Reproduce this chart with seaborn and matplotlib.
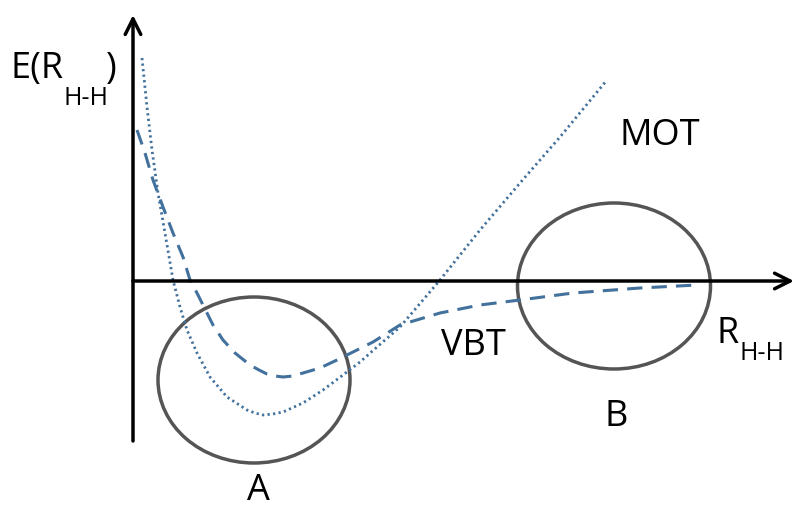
import numpy as np
import pandas as pd
import seaborn as sns
import matplotlib.pyplot as plt
from matplotlib.patches import Ellipse

# curve points (origin at the axes crossing)
vbt_x = [4, 12, 20, 30, 40, 50, 57, 64, 70, 80, 90, 102, 117, 126, 134, 142, 150, 160, 170, 187, 204,
         220, 240, 267, 307, 347, 387, 440, 507, 564]
vbt_y = [151, 128, 101, 74, 48, 24, 1, -12, -24, -44, -59, -72, -84, -89, -93, -95, -96, -95, -92, -87, -79,
         -71, -61, -44, -32, -24, -19, -12, -7, -4]

mot_x = [9, 14, 19, 25, 32, 40, 47, 54, 64, 77, 94, 114, 122, 130, 140, 150, 170, 190, 210, 227,
         244, 267, 307, 347, 387, 427, 474]
mot_y = [223, 174, 131, 88, 48, 1, -26, -49, -72, -96, -116, -129, -132, -134, -133, -131, -122, -109, -94, -81,
         -66, -46, 1, 51, 98, 144, 201]

# regions circled in the sketch: center x, center y, width, height
region_labels = ["A", "B"]
region_cx = [121, 481]
region_cy = [-99, -5]
region_w = [192, 193]
region_h = [166, 166]

sns.set_theme(style="white")
plt.rcParams['font.family'] = ['Open Sans', 'DejaVu Sans']
plt.rcParams['text.color'] = 'black'

fig = plt.figure(figsize=(7.95, 5.09), dpi=100)
ax = fig.add_axes([0, 0, 1, 1])

blue = "#41719c"
vbt = pd.DataFrame({"x": vbt_x, "y": vbt_y})
mot = pd.DataFrame({"x": mot_x, "y": mot_y})
sns.lineplot(data=vbt, x="x", y="y", sort=False, ax=ax, color=blue, lw=2.2,
             linestyle=(0, (5, 3)))
sns.lineplot(data=mot, x="x", y="y", sort=False, ax=ax, color=blue, lw=2,
             linestyle=(0, (0.8, 1.2)))

# axes drawn as arrows
arrow = dict(arrowstyle="->", lw=2.5, color="black", mutation_scale=28, shrinkA=0, shrinkB=0)
ax.annotate("", xy=(0, 266), xytext=(0, -160), arrowprops=arrow)
ax.annotate("", xy=(661, 0), xytext=(0, 0), arrowprops=arrow)

for cx, cy, w, h in zip(region_cx, region_cy, region_w, region_h):
    ax.add_patch(Ellipse((cx, cy), w, h, fill=False, ec="#555555", lw=2.5))

big = 26
small = 18
ax.text(-123, 203, "E(R", fontsize=big, va="baseline")
ax.text(-70, 176, "H-H", fontsize=small, va="baseline")
ax.text(-27, 203, ")", fontsize=big, va="baseline")
ax.text(584, -62, "R", fontsize=big, va="baseline")
ax.text(606, -79, "H-H", fontsize=small, va="baseline")
ax.text(527, 136, "MOT", fontsize=big, va="baseline", ha="center")
ax.text(340, -74, "VBT", fontsize=big, va="baseline", ha="center")
ax.text(125, -219, "A", fontsize=big, va="baseline", ha="center")
ax.text(483, -145, "B", fontsize=big, va="baseline", ha="center")

ax.set_xlim(-133, 662)
ax.set_ylim(-228, 281)
ax.axis("off")

fig.savefig("out.png", dpi=100, facecolor="white")
